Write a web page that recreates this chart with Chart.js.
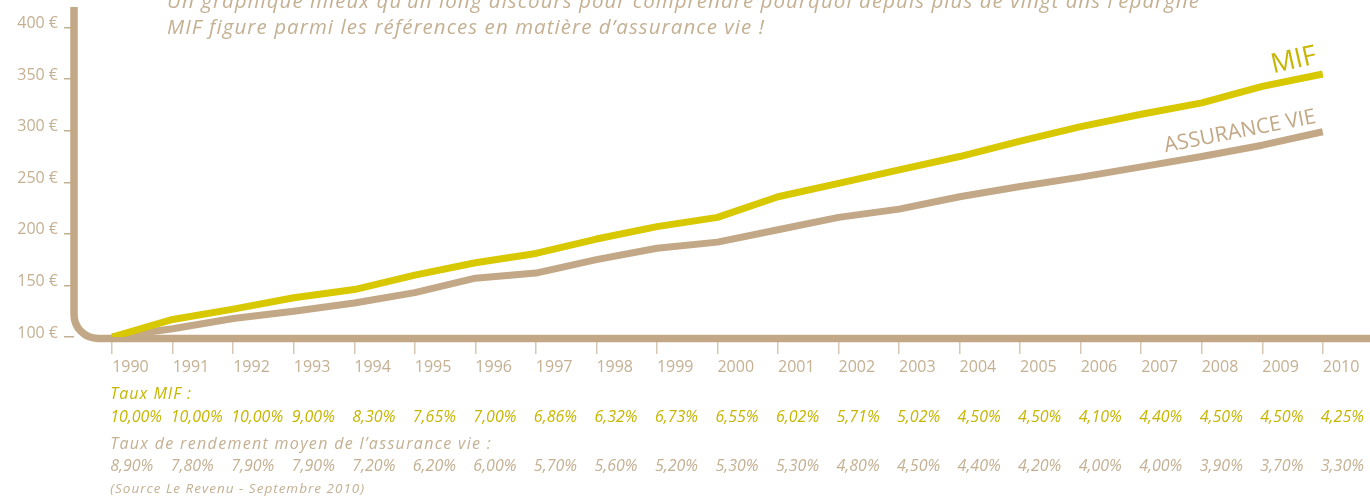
<!DOCTYPE html>
<html>
<head>
<meta charset="utf-8">
<script src="https://cdn.jsdelivr.net/npm/chart.js@4.4.0/dist/chart.umd.min.js"></script>
<style>
  html, body { margin: 0; padding: 0; background: #fff; overflow: hidden; }
  #wrap { position: relative; width: 1370px; height: 497px; }
</style>
</head>
<body>
<div id="wrap"><canvas id="chart" width="1370" height="497"></canvas></div>
<script>
// data
const years = [1990, 1991, 1992, 1993, 1994, 1995, 1996, 1997, 1998, 1999, 2000,
  2001, 2002, 2003, 2004, 2005, 2006, 2007, 2008, 2009, 2010];
const mifValues = [100, 117, 127, 138, 146, 160, 172, 181, 195, 207, 216,
  236, 249, 262, 275, 290, 304, 316, 327, 343, 355];
const avValues = [100, 108, 118, 125, 133, 143, 157, 162, 175, 186, 192,
  204, 216, 224, 236, 246, 255, 265, 275, 286, 299];
const mifRates = ["10,00%", "10,00%", "10,00%", "9,00%", "8,30%", "7,65%", "7,00%",
  "6,86%", "6,32%", "6,73%", "6,55%", "6,02%", "5,71%", "5,02%", "4,50%", "4,50%",
  "4,10%", "4,40%", "4,50%", "4,50%", "4,25%"];
const avRates = ["8,90%", "7,80%", "7,90%", "7,90%", "7,20%", "6,20%", "6,00%",
  "5,70%", "5,60%", "5,20%", "5,30%", "5,30%", "4,80%", "4,50%", "4,40%", "4,20%",
  "4,00%", "4,00%", "3,90%", "3,70%", "3,30%"];
const yTicks = [100, 150, 200, 250, 300, 350, 400];

const titleLines = [
  "Un graphique mieux qu\u2019un long discours pour comprendre pourquoi depuis plus de vingt ans l\u2019\u00e9pargne",
  "MIF figure parmi les r\u00e9f\u00e9rences en mati\u00e8re d\u2019assurance vie !"
];

const BROWN = "#c2a886";
const BROWN_TXT = "#c4b092";
const YELLOW = "#d8c800";
const YELLOW_TXT = "#c6b600";
const FONT = "'Open Sans'";

// the original font is wider, so spread letters to the measured width
function fillFitted(ctx, text, x, y, width) {
  ctx.letterSpacing = "0px";
  const w = ctx.measureText(text).width;
  ctx.letterSpacing = ((width - w) / text.length) + "px";
  ctx.fillText(text, x, y);
  ctx.letterSpacing = "0px";
}

// thick L shaped axis with the rounded corner
const framePlugin = {
  id: "frame",
  beforeDatasetsDraw(chart) {
    const { ctx, chartArea } = chart;
    const x0 = chartArea.left;
    const yb = chartArea.bottom + 1.5;
    const r = 24;
    ctx.save();
    ctx.strokeStyle = BROWN;
    ctx.lineWidth = 7.5;
    ctx.beginPath();
    ctx.moveTo(x0, chartArea.top);
    ctx.lineTo(x0, yb - r);
    ctx.arcTo(x0, yb, x0 + r, yb, r);
    ctx.lineTo(chart.width, yb);
    ctx.stroke();
    ctx.restore();
  }
};

// title, series names and the rate rows under the axis
const textPlugin = {
  id: "texts",
  afterDraw(chart) {
    const { ctx } = chart;
    const xs = chart.scales.x;
    const ys = chart.scales.y;
    ctx.save();

    ctx.fillStyle = BROWN_TXT;
    ctx.font = "italic 20.5px " + FONT;
    ctx.textAlign = "left";
    ctx.textBaseline = "alphabetic";
    fillFitted(ctx, titleLines[0], 167, 8, 1033);
    fillFitted(ctx, titleLines[1], 167, 34, 598);

    // series names next to the last points
    const last = years.length - 1;
    const xm = xs.getPixelForValue(years[last]);
    ctx.save();
    ctx.translate(xm - 5, ys.getPixelForValue(mifValues[last]) - 11);
    ctx.rotate(-13 * Math.PI / 180);
    ctx.fillStyle = YELLOW_TXT;
    ctx.font = "27px " + FONT;
    ctx.textAlign = "right";
    ctx.fillText("MIF", 0, 0);
    ctx.restore();

    ctx.save();
    ctx.translate(xm - 6, ys.getPixelForValue(avValues[last]) - 9);
    ctx.rotate(-11 * Math.PI / 180);
    ctx.fillStyle = BROWN;
    ctx.font = "21px " + FONT;
    ctx.textAlign = "right";
    ctx.fillText("ASSURANCE VIE", 0, 0);
    ctx.restore();

    // rate rows
    const x0 = xs.getPixelForValue(years[0]) - 2;
    ctx.textBaseline = "middle";
    ctx.textAlign = "left";
    ctx.font = "italic 16px " + FONT;
    ctx.fillStyle = YELLOW_TXT;
    fillFitted(ctx, "Taux MIF :", x0, 394, 82);
    years.forEach((yr, i) => {
      ctx.fillText(mifRates[i], xs.getPixelForValue(yr) - 2, 417);
    });
    ctx.fillStyle = BROWN_TXT;
    fillFitted(ctx, "Taux de rendement moyen de l\u2019assurance vie :", x0, 444, 382);
    years.forEach((yr, i) => {
      ctx.fillText(avRates[i], xs.getPixelForValue(yr) - 2, 466);
    });
    ctx.font = "italic 13.5px " + FONT;
    fillFitted(ctx, "(Source Le Revenu - Septembre 2010)", x0, 489, 255);
    ctx.restore();
  }
};

const ctx = document.getElementById("chart");
new Chart(ctx, {
  type: "line",
  data: {
    datasets: [
      {
        label: "MIF",
        data: years.map((yr, i) => ({ x: yr, y: mifValues[i] })),
        borderColor: YELLOW,
        borderWidth: 7,
        borderJoinStyle: "round",
        pointRadius: 0,
        tension: 0,
        fill: false
      },
      {
        label: "ASSURANCE VIE",
        data: years.map((yr, i) => ({ x: yr, y: avValues[i] })),
        borderColor: BROWN,
        borderWidth: 7,
        borderJoinStyle: "round",
        pointRadius: 0,
        tension: 0,
        fill: false
      }
    ]
  },
  options: {
    responsive: false,
    animation: false,
    devicePixelRatio: 1,
    layout: { padding: { top: 7, right: 0, left: 0, bottom: 0 } },
    plugins: {
      legend: { display: false },
      tooltip: { enabled: false }
    },
    scales: {
      x: {
        type: "linear",
        min: 1989.37,
        max: 2010.78,
        afterBuildTicks: (scale) => {
          scale.ticks = years.map((v) => ({ value: v }));
        },
        afterFit: (scale) => {
          scale.height = 160;
          scale.paddingLeft = 0;
          scale.paddingRight = 0;
        },
        border: { display: false },
        grid: {
          drawOnChartArea: false,
          drawTicks: true,
          tickLength: 17,
          color: "#d6c8b2",
          lineWidth: 1.5
        },
        ticks: {
          align: "start",
          autoSkip: false,
          maxRotation: 0,
          padding: 4,
          color: BROWN_TXT,
          font: { family: FONT, size: 16 },
          callback: (v) => String(v)
        }
      },
      y: {
        min: 100,
        max: 420,
        afterBuildTicks: (scale) => {
          scale.ticks = yTicks.map((v) => ({ value: v }));
        },
        afterFit: (scale) => {
          scale.width = 74;
          scale.paddingTop = 0;
          scale.paddingBottom = 0;
        },
        border: { display: false },
        grid: {
          drawOnChartArea: false,
          drawTicks: true,
          tickLength: 10,
          color: BROWN_TXT,
          lineWidth: 1.5
        },
        ticks: {
          padding: 6,
          labelOffset: -4,
          color: BROWN_TXT,
          font: { family: FONT, size: 16 },
          callback: (v) => v + " \u20ac"
        }
      }
    }
  },
  plugins: [framePlugin, textPlugin]
});
</script>
</body>
</html>
